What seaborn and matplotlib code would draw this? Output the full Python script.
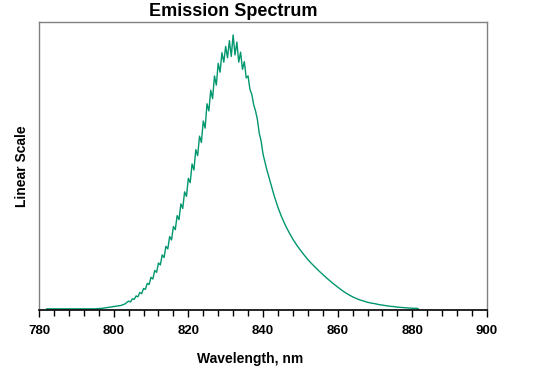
import numpy as np
import pandas as pd
import seaborn as sns
import matplotlib.pyplot as plt
from matplotlib.ticker import MultipleLocator

# Wavelengths (nm) and relative intensity
wl_left = [782, 783, 784, 785, 786, 787, 788, 789, 790, 791, 792, 793, 794,
           795, 796, 797, 798, 799, 800, 801, 802, 803]
int_left = [0.0, 0.0, 0.0, 0.0, 0.0, 0.0, 0.0, 0.0, 0.0, 0.0, 0.0, 0.0, 0.0,
            0.0, 0.001, 0.002, 0.004, 0.006, 0.008, 0.010, 0.012, 0.017]

# rippled region near the peak, sampled every half nm
wl_peak = [804, 804.5, 805, 805.5, 806, 806.5, 807, 807.5, 808, 808.5,
           809, 809.5, 810, 810.5, 811, 811.5, 812, 812.5, 813, 813.5,
           814, 814.5, 815, 815.5, 816, 816.5, 817, 817.5, 818, 818.5,
           819, 819.5, 820, 820.5, 821, 821.5, 822, 822.5, 823, 823.5,
           824, 824.5, 825, 825.5, 826, 826.5, 827, 827.5, 828, 828.5,
           829, 829.5, 830, 830.5, 831, 831.5, 832, 832.5, 833, 833.5,
           834, 834.5, 835, 835.5, 836, 836.5, 837, 837.5, 838, 838.5,
           839, 839.5, 840]
int_peak = [0.027, 0.024, 0.035, 0.033, 0.045, 0.042, 0.057, 0.053, 0.071, 0.068,
            0.089, 0.085, 0.110, 0.104, 0.134, 0.127, 0.160, 0.153, 0.188, 0.179,
            0.218, 0.209, 0.252, 0.240, 0.287, 0.276, 0.325, 0.311, 0.366, 0.350,
            0.408, 0.392, 0.455, 0.440, 0.505, 0.484, 0.555, 0.534, 0.602, 0.580,
            0.655, 0.630, 0.715, 0.690, 0.762, 0.733, 0.812, 0.780, 0.856, 0.825,
            0.893, 0.860, 0.915, 0.875, 0.935, 0.880, 0.955, 0.885, 0.930, 0.860,
            0.895, 0.835, 0.862, 0.805, 0.812, 0.765, 0.748, 0.712, 0.690, 0.660,
            0.612, 0.585, 0.540]

wl_right = [841, 842, 843, 844, 845, 846, 847, 848, 849, 850, 851, 852, 853,
            854, 855, 856, 857, 858, 859, 860, 861, 862, 863, 864, 865, 866,
            867, 868, 869, 870, 871, 872, 873, 874, 875, 876, 877, 878, 879,
            880, 881, 881.6]
int_right = [0.486, 0.440, 0.394, 0.354, 0.320, 0.291, 0.266, 0.243, 0.223,
             0.205, 0.188, 0.172, 0.158, 0.145, 0.132, 0.120, 0.108, 0.097,
             0.086, 0.076, 0.066, 0.057, 0.049, 0.042, 0.036, 0.031, 0.027,
             0.023, 0.020, 0.018, 0.015, 0.013, 0.011, 0.009, 0.008, 0.006,
             0.005, 0.004, 0.003, 0.002, 0.002, 0.001]

x_ticks = [780, 800, 820, 840, 860, 880, 900]

df = pd.DataFrame({
    'wavelength': wl_left + wl_peak + wl_right,
    'intensity': int_left + int_peak + int_right,
})

sns.set_style('white')
plt.rcParams['font.family'] = ['Liberation Sans', 'DejaVu Sans']
plt.rcParams['text.color'] = 'black'
plt.rcParams['xtick.color'] = 'black'

fig = plt.figure(figsize=(5.43, 3.73), dpi=100)
ax = fig.add_axes([39 / 543, 63 / 373, 448 / 543, 288 / 373])

sns.lineplot(data=df, x='wavelength', y='intensity', ax=ax,
             color='#00966E', linewidth=1.0, estimator=None, sort=False)

ax.set_xlim(780, 900)
ax.set_ylim(-0.004, 1.0)
ax.set_xticks(x_ticks)
ax.set_xticklabels([str(t) for t in x_ticks], fontsize=9.5, fontweight='bold')
ax.xaxis.set_minor_locator(MultipleLocator(4))
ax.set_yticks([])
ax.tick_params(axis='x', which='major', direction='out', length=5, width=1,
               color='black', labelcolor='black', pad=6, bottom=True)
ax.tick_params(axis='x', which='minor', direction='out', length=4, width=1,
               color='black', bottom=True)
ax.set_xlabel('')
ax.set_ylabel('')

for side in ['top', 'right', 'left']:
    ax.spines[side].set_color('#808080')
    ax.spines[side].set_linewidth(1)
ax.spines['bottom'].set_color('black')
ax.spines['bottom'].set_linewidth(1.2)

fig.text(233 / 543, 1 - 11 / 373, 'Emission Spectrum', ha='center', va='center',
         fontsize=13, fontweight='bold', color='black')
fig.text(250 / 543, 1 - 359 / 373, 'Wavelength, nm', ha='center', va='center',
         fontsize=10, fontweight='bold', color='black')
fig.text(22 / 543, 1 - 166 / 373, 'Linear Scale', ha='center', va='center',
         rotation=90, fontsize=10, fontweight='bold', color='black')

fig.savefig('out.png', dpi=100)
